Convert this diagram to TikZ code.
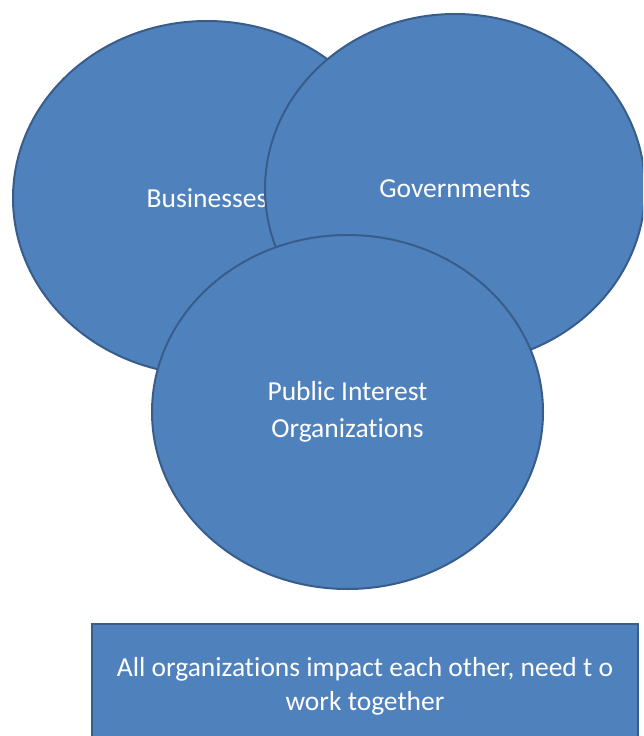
\documentclass[tikz,border=0pt]{standalone}
\usepackage{fontspec}
\setmainfont{Carlito}[Ligatures=NoCommon]
\usetikzlibrary{shapes.geometric}
\definecolor{fillblue}{HTML}{4F81BD}
\definecolor{edgeblue}{HTML}{385D8A}
\begin{document}
\begin{tikzpicture}[x=1pt,y=-1pt]
    \tikzstyle{group} = [ellipse, minimum width = 388pt, minimum height = 354pt, fill = fillblue, draw = edgeblue, line width = 2pt, text = white, font = \fontsize{27.5}{37}\selectfont, align = center, inner sep = 0pt]
    \tikzstyle{note} = [rectangle, minimum width = 546pt, minimum height = 124pt, fill = fillblue, draw = edgeblue, line width = 2pt, text = white, font = \fontsize{27.5}{34}\selectfont, align = center]
    \useasboundingbox (0,0) rectangle (643,736);
    \clip (0,0) rectangle (643,736);
    \node[group](Bus) at (207,198){Businesses};
    \node[group, minimum width = 380pt, minimum height = 350pt](Gov) at (455,189){Governments};
    \node[group, minimum width = 391pt](Pub) at (347.5,412){Public Interest\\Organizations};
    \node[note](Note) at (365,686){All organizations impact each other, need t o\\work together};
\end{tikzpicture}
\end{document}
